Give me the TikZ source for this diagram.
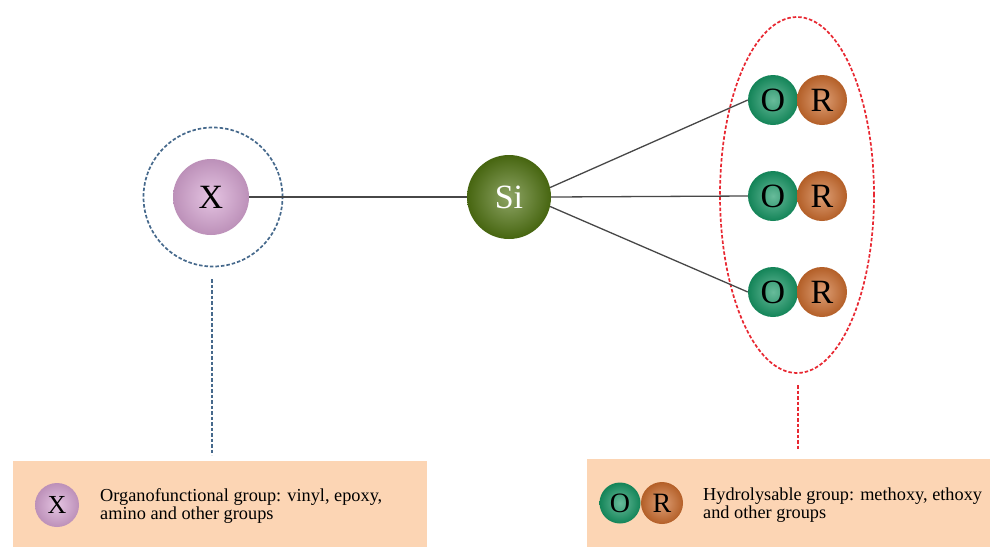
\documentclass[tikz,border=0pt]{standalone}
\usepackage{fontspec}
\setmainfont{Liberation Serif}
\usetikzlibrary{shapes.geometric}
\definecolor{xpink}{RGB}{214,164,210}
\definecolor{sigreen}{RGB}{80,115,18}
\definecolor{ogreen}{RGB}{22,150,100}
\definecolor{rorange}{RGB}{204,108,45}
\definecolor{peach}{RGB}{252,213,180}
\definecolor{bdash}{RGB}{70,105,140}
\definecolor{rdash}{RGB}{232,40,50}
\tikzset{
  sph/.style={circle, inner sep=0pt, shading=radial, inner color=#1!65!white, outer color=#1!88!black},
  bond/.style={draw=black!72, line width=1.3pt},
  dsh/.style={dash pattern=on 3.5pt off 2pt, line width=1.7pt},
  legbox/.style={fill=peach, draw=none},
  legtext/.style={anchor=west, align=left, inner sep=0pt, font=\fontsize{18.3}{15}\selectfont},
  bigfont/.style={font=\fontsize{34}{34}\selectfont},
}
\begin{document}
\begin{tikzpicture}[x=1pt,y=-1pt]
\useasboundingbox (0,0) rectangle (990,547);
\fill[white] (0,0) rectangle (990,547);
% dashed outlines
\node[circle, draw=bdash, dsh, minimum size=139pt, inner sep=0pt] (bcirc) at (213,197) {};
\node[ellipse, draw=rdash, dsh, minimum width=154pt, minimum height=356pt, inner sep=0pt] (rell) at (797,195) {};
% spheres
\node[sph=xpink, minimum size=76pt, bigfont] (X) at (211,197) {X};
\node[sph=sigreen, minimum size=84pt, bigfont, text=white] (Si) at (509,197) {Si};
\foreach \i/\yy in {1/100,2/196,3/292}{
  \node[sph=ogreen, minimum size=50pt, font=\fontsize{34}{34}\selectfont] (O\i) at (773,\yy) {O};
  \node[sph=rorange, minimum size=50pt, font=\fontsize{34}{34}\selectfont] (R\i) at (822,\yy) {R};
}
% bonds
\draw[bond] (X) -- (Si);
\draw[bond] (Si.13) -- (O1.west);
\draw[bond] (Si.east) -- (O2.west);
\draw[bond] (Si.-13) -- (O3.west);
% legend boxes
\path[legbox] (13,461) rectangle (427,547);
\node[inner sep=0pt, minimum width=414pt, minimum height=86pt, anchor=north west] (lbox) at (13,461) {};
\path[legbox] (587,459) rectangle (990,547);
\node[inner sep=0pt, minimum width=403pt, minimum height=88pt, anchor=north west] (rbox) at (587,459) {};
% leader lines
\coordinate (bt) at (212,279);
\coordinate (rt) at (798,385);
\draw[bdash, dsh, shorten >=6pt] (bt) -- (bt |- lbox.north);
\draw[rdash, dsh, shorten >=10pt] (rt) -- (rt |- rbox.north);
% legend content
\node[sph=xpink, minimum size=44pt, font=\fontsize{26}{26}\selectfont] (lX) at (57,505) {X};
\node[legtext] (ltext) at (100,506) {Organofunctional group: vinyl, epoxy,\\amino and other groups};
\node[sph=ogreen, minimum size=41pt, font=\fontsize{28}{28}\selectfont] (lO) at (620,503) {O};
\node[sph=rorange, minimum size=42pt, font=\fontsize{28}{28}\selectfont] (lR) at (662,503) {R};
\node[legtext] (rtext) at (703,505) {Hydrolysable group: methoxy, ethoxy\\and other groups};
\end{tikzpicture}
\end{document}
